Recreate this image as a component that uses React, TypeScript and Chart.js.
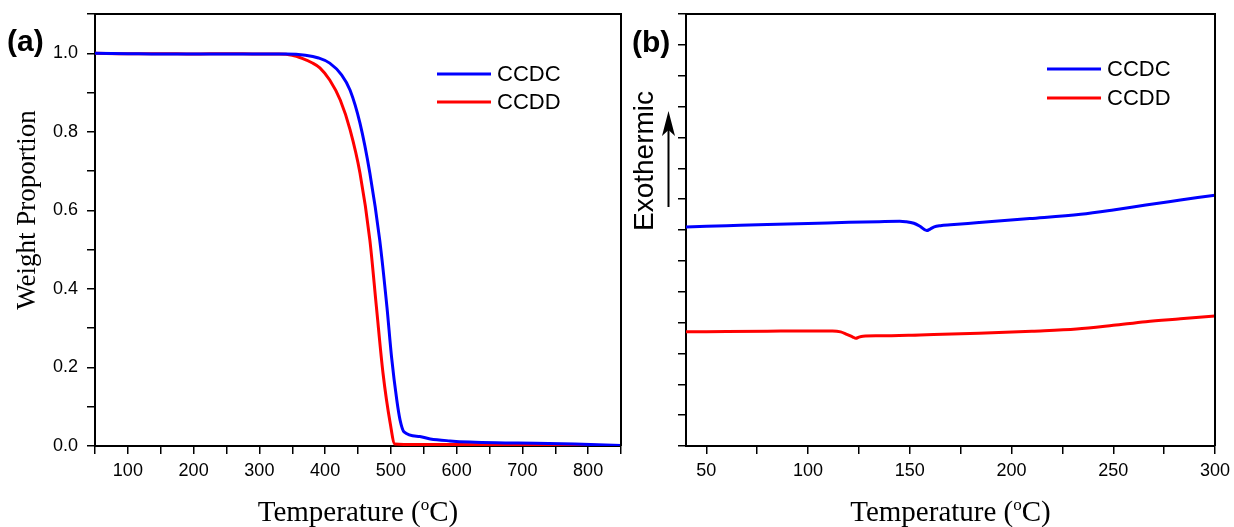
import React, { useEffect, useRef } from 'react';
import { Chart, registerables } from 'chart.js';

Chart.register(...registerables);

// ---------- Data: panel (a) TGA ----------
const tgaTempCCDC = [50, 100, 150, 200, 250, 300, 340, 370, 390, 407, 425, 438, 453, 468, 483, 494, 501, 509, 514, 520, 544, 560, 590, 620, 660, 720, 780, 850];
const tgaWeightCCDC = [1.0, 0.999, 0.998, 0.998, 0.998, 0.998, 0.998, 0.995, 0.988, 0.975, 0.945, 0.906, 0.822, 0.695, 0.525, 0.354, 0.227, 0.117, 0.066, 0.036, 0.024, 0.018, 0.013, 0.010, 0.008, 0.007, 0.005, 0.001];
const tgaTempCCDD = [50, 100, 150, 200, 250, 300, 330, 350, 365, 380, 392, 407, 423, 438, 453, 468, 478, 488, 499, 506, 520, 600, 700, 800, 850];
const tgaWeightCCDD = [1.0, 0.999, 0.999, 0.998, 0.999, 0.998, 0.998, 0.995, 0.987, 0.976, 0.963, 0.932, 0.881, 0.805, 0.695, 0.525, 0.354, 0.186, 0.058, 0.005, 0.004, 0.004, 0.003, 0.002, 0.0];

// ---------- Data: panel (b) DSC ----------
const dscTempCCDC = [40, 60, 80, 100, 120, 135, 145, 148, 152, 155, 158.3, 160, 162, 165, 170, 184, 209, 234, 250, 266, 283, 300];
const dscHeatCCDC = [7.10, 7.14, 7.18, 7.21, 7.25, 7.27, 7.28, 7.27, 7.22, 7.12, 6.98, 7.03, 7.10, 7.14, 7.17, 7.24, 7.37, 7.51, 7.65, 7.81, 7.97, 8.13];
const dscTempCCDD = [40, 60, 80, 100, 112, 116, 119, 122, 123.5, 125, 127, 135, 155, 184, 210, 232, 250, 266, 283, 300];
const dscHeatCCDD = [3.70, 3.71, 3.72, 3.73, 3.73, 3.70, 3.62, 3.53, 3.49, 3.53, 3.56, 3.57, 3.60, 3.65, 3.72, 3.79, 3.91, 4.03, 4.12, 4.21];

const seriesNames = ['CCDC', 'CCDD'];
const seriesColors = ['#0000ff', '#ff0000'];

// ---------- Ticks ----------
const tgaXTicks = [50, 100, 150, 200, 250, 300, 350, 400, 450, 500, 550, 600, 650, 700, 750, 800, 850];
const tgaXLabels = [100, 200, 300, 400, 500, 600, 700, 800];
const tgaYTicks = [0, 0.1, 0.2, 0.3, 0.4, 0.5, 0.6, 0.7, 0.8, 0.9, 1.0, 1.1];
const tgaYLabels = [0, 0.2, 0.4, 0.6, 0.8, 1.0];
const dscXTicks = [50, 75, 100, 125, 150, 175, 200, 225, 250, 275, 300];
const dscXLabels = [50, 100, 150, 200, 250, 300];
const dscYTicks = [0, 1, 2, 3, 4, 5, 6, 7, 8, 9, 10, 11, 12, 13, 14];

const xTitle = ['Temperature (', 'o', 'C)'];
const tgaYTitle = 'Weight Proportion';
const dscYTitle = 'Exothermic';

const SANS = '"Liberation Sans", Arial, sans-serif';
const SERIF = '"Liberation Serif", "Times New Roman", serif';

const pts = (xs: number[], ys: number[]) => xs.map((x, i) => ({ x, y: ys[i] }));
const has = (arr: number[], v: number) => arr.some((a) => Math.abs(a - v) < 1e-6);

function drawXTitle(ctx: CanvasRenderingContext2D, cx: number, baseline: number) {
  const main = `29px ${SERIF}`;
  const sup = `17px ${SERIF}`;
  ctx.font = main;
  const w1 = ctx.measureText(xTitle[0]).width;
  const w3 = ctx.measureText(xTitle[2]).width;
  ctx.font = sup;
  const w2 = ctx.measureText(xTitle[1]).width;
  let x = cx - (w1 + w2 + w3) / 2;
  ctx.fillStyle = '#000';
  ctx.textAlign = 'left';
  ctx.textBaseline = 'alphabetic';
  ctx.font = main;
  ctx.fillText(xTitle[0], x, baseline);
  x += w1;
  ctx.font = sup;
  ctx.fillText(xTitle[1], x, baseline - 11);
  x += w2;
  ctx.font = main;
  ctx.fillText(xTitle[2], x, baseline);
}

type Deco = {
  legendX: number;
  legendY: number;
  legendGap: number;
  letter: string;
  letterX: number;
  letterY: number;
  drawY: (ctx: CanvasRenderingContext2D) => void;
};

function decoPlugin(d: Deco) {
  return {
    id: 'deco',
    afterDraw(chart: any) {
      const { ctx, chartArea: a } = chart;
      ctx.save();
      ctx.strokeStyle = '#000';
      ctx.lineWidth = 2;
      ctx.beginPath();
      ctx.moveTo(a.left, a.top);
      ctx.lineTo(a.right, a.top);
      ctx.lineTo(a.right, a.bottom);
      ctx.stroke();
      chart.data.datasets.forEach((ds: any, i: number) => {
        const y = d.legendY + i * d.legendGap;
        ctx.strokeStyle = ds.borderColor;
        ctx.lineWidth = 3;
        ctx.beginPath();
        ctx.moveTo(d.legendX, y);
        ctx.lineTo(d.legendX + 54, y);
        ctx.stroke();
        ctx.fillStyle = '#000';
        ctx.font = `22px ${SANS}`;
        ctx.textAlign = 'left';
        ctx.textBaseline = 'middle';
        ctx.fillText(ds.label, d.legendX + 60, y + 1);
      });
      ctx.fillStyle = '#000';
      ctx.font = `bold 30px ${SANS}`;
      ctx.textAlign = 'left';
      ctx.textBaseline = 'alphabetic';
      ctx.fillText(d.letter, d.letterX, d.letterY);
      drawXTitle(ctx, (a.left + a.right) / 2, 521);
      d.drawY(ctx);
      ctx.restore();
    },
  };
}

function axisCommon(ticks: number[], labelFn: (v: number) => string, pad: number) {
  return {
    type: 'linear' as const,
    border: { display: true, color: '#000', width: 2 },
    grid: { display: true, drawOnChartArea: false, drawTicks: true, tickLength: 8, color: '#000', lineWidth: 1.5 },
    ticks: {
      autoSkip: false,
      maxRotation: 0,
      color: '#000',
      padding: pad,
      font: { family: SANS, size: 18 },
      callback: (v: any) => labelFn(Number(v)),
    },
    afterBuildTicks: (s: any) => {
      s.ticks = ticks.map((v) => ({ value: v }));
    },
  };
}

function fitX(s: any) {
  s.height = 81;
  s.paddingLeft = 0;
  s.paddingRight = 0;
  s.paddingTop = 0;
  s.paddingBottom = 0;
}

function fitY(w: number) {
  return (s: any) => {
    s.width = w;
    s.paddingLeft = 0;
    s.paddingRight = 0;
    s.paddingTop = 0;
    s.paddingBottom = 0;
  };
}

function makeDatasets(d1: { x: number; y: number }[], d2: { x: number; y: number }[]) {
  return [d1, d2].map((data, i) => ({
    label: seriesNames[i],
    data,
    borderColor: seriesColors[i],
    backgroundColor: seriesColors[i],
    borderWidth: 3,
    pointRadius: 0,
    fill: false,
    cubicInterpolationMode: 'monotone' as const,
  }));
}

export default function App() {
  const refA = useRef<HTMLCanvasElement>(null);
  const refB = useRef<HTMLCanvasElement>(null);

  useEffect(() => {
    const chartA = new Chart(refA.current!, {
      type: 'line',
      data: { datasets: makeDatasets(pts(tgaTempCCDC, tgaWeightCCDC), pts(tgaTempCCDD, tgaWeightCCDD)) as any },
      options: {
        animation: false,
        responsive: false,
        events: [],
        layout: { padding: { left: 0, right: 9, top: 14, bottom: 0 } },
        plugins: { legend: { display: false }, tooltip: { enabled: false } },
        scales: {
          x: {
            ...axisCommon(tgaXTicks, (v) => (has(tgaXLabels, v) ? String(v) : ''), 6),
            position: 'bottom',
            min: 50,
            max: 850,
            afterFit: fitX,
          },
          y: {
            ...axisCommon(tgaYTicks, (v) => (has(tgaYLabels, v) ? v.toFixed(1) : ''), 9),
            position: 'left',
            min: 0,
            max: 1.1,
            afterFit: fitY(95),
          },
        },
      } as any,
      plugins: [
        decoPlugin({
          legendX: 437,
          legendY: 74,
          legendGap: 28,
          letter: '(a)',
          letterX: 7,
          letterY: 51,
          drawY: (ctx) => {
            ctx.save();
            ctx.translate(35, 210);
            ctx.rotate(-Math.PI / 2);
            ctx.font = `27px ${SERIF}`;
            ctx.fillStyle = '#000';
            ctx.textAlign = 'center';
            ctx.textBaseline = 'alphabetic';
            ctx.fillText(tgaYTitle, 0, 0);
            ctx.restore();
          },
        }) as any,
      ],
    });

    const chartB = new Chart(refB.current!, {
      type: 'line',
      data: { datasets: makeDatasets(pts(dscTempCCDC, dscHeatCCDC), pts(dscTempCCDD, dscHeatCCDD)) as any },
      options: {
        animation: false,
        responsive: false,
        events: [],
        layout: { padding: { left: 0, right: 19, top: 14, bottom: 0 } },
        plugins: { legend: { display: false }, tooltip: { enabled: false } },
        scales: {
          x: {
            ...axisCommon(dscXTicks, (v) => (has(dscXLabels, v) ? String(v) : ''), 6),
            position: 'bottom',
            min: 40,
            max: 300,
            afterFit: fitX,
          },
          y: {
            ...axisCommon(dscYTicks, () => '', 4),
            position: 'left',
            min: 0,
            max: 14,
            afterFit: fitY(56),
          },
        },
      } as any,
      plugins: [
        decoPlugin({
          legendX: 417,
          legendY: 69,
          legendGap: 29,
          letter: '(b)',
          letterX: 2,
          letterY: 52,
          drawY: (ctx) => {
            ctx.save();
            ctx.translate(23, 161);
            ctx.rotate(-Math.PI / 2);
            ctx.font = `28px ${SANS}`;
            ctx.fillStyle = '#000';
            ctx.textAlign = 'center';
            ctx.textBaseline = 'alphabetic';
            ctx.fillText(dscYTitle, 0, 0);
            ctx.restore();
            const ax = 38.5;
            ctx.save();
            ctx.strokeStyle = '#000';
            ctx.fillStyle = '#000';
            ctx.lineWidth = 2;
            ctx.beginPath();
            ctx.moveTo(ax, 207);
            ctx.lineTo(ax, 125);
            ctx.stroke();
            ctx.beginPath();
            ctx.moveTo(ax, 111);
            ctx.lineTo(ax + 6.5, 136);
            ctx.lineTo(ax, 130);
            ctx.lineTo(ax - 6.5, 136);
            ctx.closePath();
            ctx.fill();
            ctx.restore();
          },
        }) as any,
      ],
    });

    return () => {
      chartA.destroy();
      chartB.destroy();
    };
  }, []);

  return (
    <div style={{ position: 'fixed', left: 0, top: 0, width: 1234, height: 527, background: '#fff' }}>
      <canvas ref={refA} width={630} height={527} style={{ position: 'absolute', left: 0, top: 0 }} />
      <canvas ref={refB} width={604} height={527} style={{ position: 'absolute', left: 630, top: 0 }} />
    </div>
  );
}
